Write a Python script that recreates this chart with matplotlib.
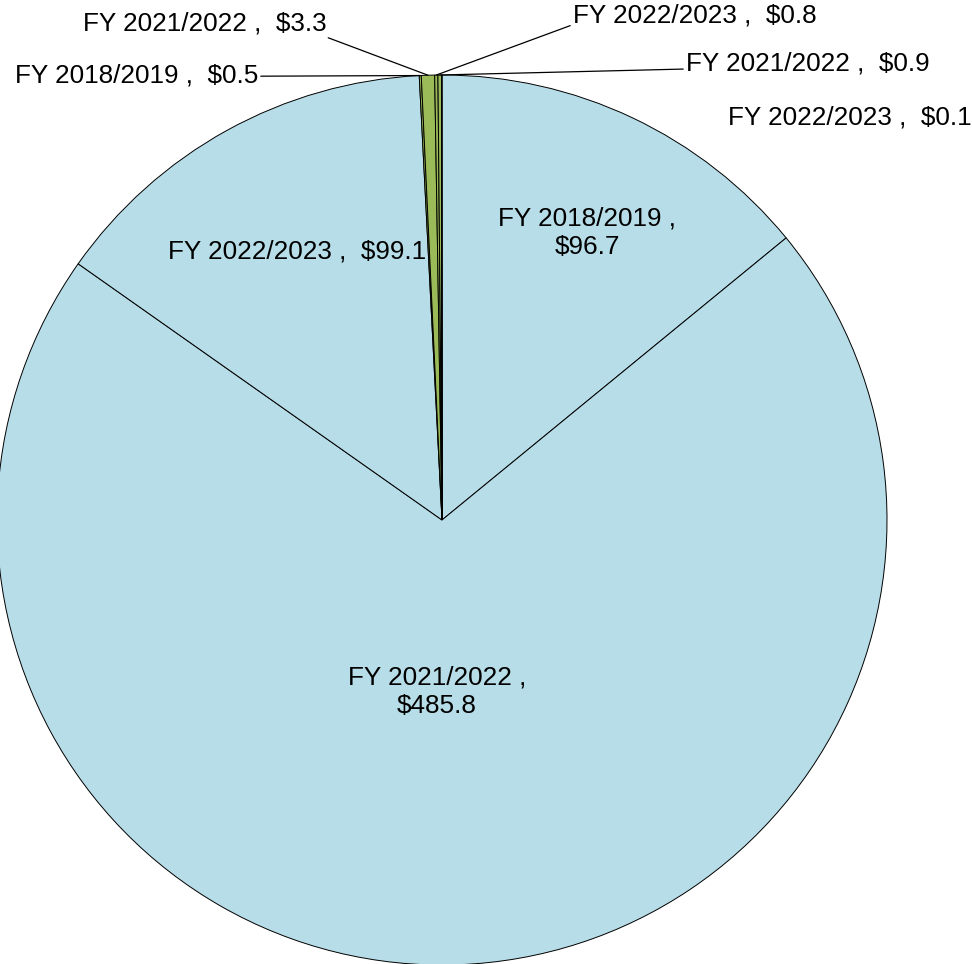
import numpy as np
import matplotlib
matplotlib.use("Agg")
import matplotlib.pyplot as plt

plt.rcParams["font.family"] = ["Liberation Sans", "DejaVu Sans"]

# slices in drawing order, clockwise from 12 o'clock
YEARS = ["FY 2018/2019", "FY 2021/2022", "FY 2022/2023",
         "FY 2018/2019", "FY 2021/2022", "FY 2022/2023",
         "FY 2021/2022", "FY 2022/2023"]
VALUES = [96.7, 485.8, 99.1, 0.5, 3.3, 0.8, 0.9, 0.1]
GROUP = ["a", "a", "a", "b", "b", "b", "b", "b"]
GROUP_COLORS = {"a": "#B7DDE8", "b": "#9BBB59"}

# pixel geometry of the reference
W, H = 972, 964
CX, CY, R = 442, 520, 445


def px(x, y):
    return (x - CX) / R, (CY - y) / R


def label_text(i, two_lines=False):
    sep = " ,\n" if two_lines else " ,  "
    return f"{YEARS[i]}{sep}${VALUES[i]:.1f}"


fig = plt.figure(figsize=(W / 100, H / 100), dpi=100)
ax = fig.add_axes([0, 0, 1, 1])

wedges, _ = ax.pie(
    VALUES,
    colors=[GROUP_COLORS[g] for g in GROUP],
    startangle=90,
    counterclock=False,
    radius=1,
    wedgeprops=dict(edgecolor="black", linewidth=0.7),
)

ax.set_xlim(-CX / R, (W - CX) / R)
ax.set_ylim((CY - H) / R, CY / R)
ax.set_aspect("auto")
ax.axis("off")

fs = 18.8

# labels inside the big slices
ax.text(*px(587, 233), label_text(0, True), ha="center", va="center",
        fontsize=fs, linespacing=1.25)
ax.text(*px(437, 692), label_text(1, True), ha="center", va="center",
        fontsize=fs, linespacing=1.25)
ax.text(*px(297, 252), label_text(2), ha="center", va="center", fontsize=fs)


def edge_point(w):
    mid = np.deg2rad((w.theta1 + w.theta2) / 2)
    return np.cos(mid), np.sin(mid)


line = dict(arrowstyle="-", color="black", linewidth=0.9,
            shrinkA=0, shrinkB=0)

# small slice labels with leader lines
ax.annotate(label_text(3), xy=edge_point(wedges[3]), xytext=px(258, 75),
            ha="right", va="center", fontsize=fs,
            arrowprops=dict(line, relpos=(1, 0.45)))
ax.annotate(label_text(4), xy=edge_point(wedges[4]), xytext=px(83, 23),
            ha="left", va="center", fontsize=fs,
            arrowprops=dict(line, relpos=(0.95, 0.1)))
ax.annotate(label_text(5), xy=edge_point(wedges[5]), xytext=px(573, 15),
            ha="left", va="center", fontsize=fs,
            arrowprops=dict(line, relpos=(0, 0.1)))
ax.annotate(label_text(6), xy=edge_point(wedges[6]), xytext=px(686, 63),
            ha="left", va="center", fontsize=fs,
            arrowprops=dict(line, relpos=(0, 0.25)))
ax.text(*px(728, 117), label_text(7), ha="left", va="center", fontsize=fs)

fig.savefig("out.png", dpi=100)
plt.close(fig)
